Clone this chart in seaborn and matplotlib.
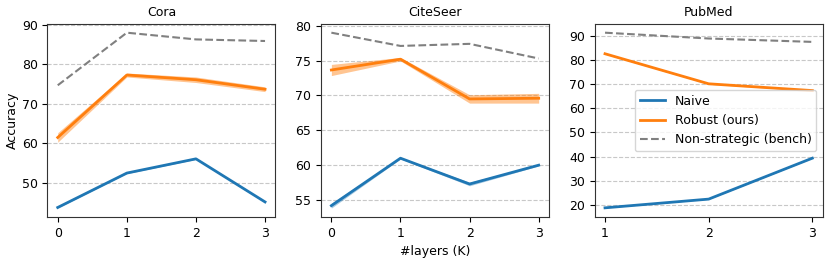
import matplotlib
matplotlib.use("Agg")
import matplotlib.pyplot as plt
from matplotlib.ticker import MultipleLocator
import seaborn as sns
import numpy as np
import pandas as pd

datasets = ["Cora", "CiteSeer", "PubMed"]

layers = {
    "Cora": [0, 1, 2, 3],
    "CiteSeer": [0, 1, 2, 3],
    "PubMed": [1, 2, 3],
}

naive_mean = {
    "Cora": [43.8, 52.5, 56.1, 45.2],
    "CiteSeer": [54.2, 61.0, 57.3, 60.0],
    "PubMed": [18.9, 22.5, 39.4],
}
naive_err = {
    "Cora": [0.15, 0.15, 0.15, 0.2],
    "CiteSeer": [0.35, 0.1, 0.25, 0.1],
    "PubMed": [0.1, 0.1, 0.1],
}
robust_mean = {
    "Cora": [61.5, 77.3, 76.1, 73.7],
    "CiteSeer": [73.65, 75.2, 69.5, 69.6],
    "PubMed": [82.5, 70.1, 67.3],
}
robust_err = {
    "Cora": [1.2, 0.5, 0.7, 0.6],
    "CiteSeer": [0.8, 0.25, 0.6, 0.7],
    "PubMed": [0.2, 0.2, 0.2],
}
bench = {
    "Cora": [74.7, 88.0, 86.3, 85.9],
    "CiteSeer": [79.0, 77.1, 77.4, 75.3],
    "PubMed": [91.2, 88.8, 87.4],
}
ytick_step = {"Cora": 10, "CiteSeer": 5, "PubMed": 10}

c_naive = "#1f77b4"
c_rob = "#ff7f0e"
c_bench = "gray"

fig, axes = plt.subplots(1, 3, figsize=(8.31, 2.6), dpi=100)
fig.subplots_adjust(left=0.057, right=0.99, top=0.908, bottom=0.166, wspace=0.2)

for ax, name in zip(axes, datasets):
    x = np.array(layers[name])
    nm = np.array(naive_mean[name]); ne = np.array(naive_err[name])
    rm = np.array(robust_mean[name]); re = np.array(robust_err[name])
    df = pd.DataFrame({"x": x, "naive": nm, "robust": rm, "bench": bench[name]})
    sns.lineplot(data=df, x="x", y="naive", ax=ax, color=c_naive, lw=2, label="Naive")
    ax.fill_between(x, nm - ne, nm + ne, color=c_naive, alpha=0.4, lw=0)
    sns.lineplot(data=df, x="x", y="robust", ax=ax, color=c_rob, lw=2, label="Robust (ours)")
    ax.fill_between(x, rm - re, rm + re, color=c_rob, alpha=0.45, lw=0)
    sns.lineplot(data=df, x="x", y="bench", ax=ax, color=c_bench, lw=1.5, ls="--",
                 label="Non-strategic (bench)")
    ax.set_xticks(x)
    ax.yaxis.set_major_locator(MultipleLocator(ytick_step[name]))
    ax.set_title(name, fontsize=9)
    ax.set_xlabel("")
    ax.set_ylabel("")
    ax.grid(axis="y", ls="--", color="#c8c8c8", lw=0.8)
    ax.set_axisbelow(True)
    ax.tick_params(labelsize=9)
    for s in ax.spines.values():
        s.set_color("#333333")
    if name != "PubMed":
        ax.get_legend().remove()

axes[0].set_ylabel("Accuracy", fontsize=9, labelpad=2)
axes[1].set_xlabel("#layers (K)", fontsize=9)
axes[2].legend(loc="center right", fontsize=9)

fig.savefig("out.png", dpi=100)
